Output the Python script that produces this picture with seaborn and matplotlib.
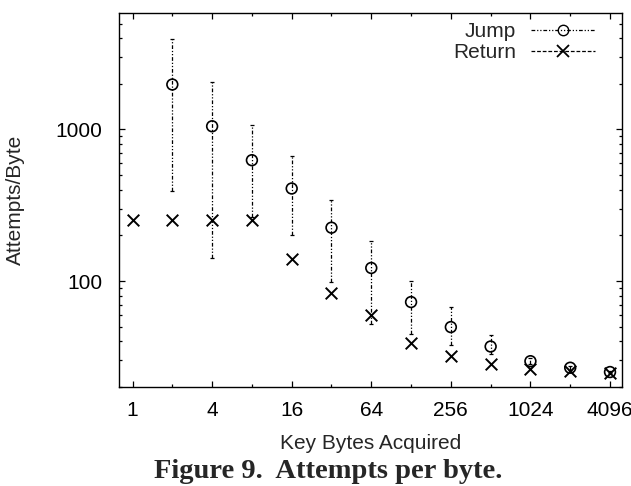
import numpy as np
import pandas as pd
import matplotlib
matplotlib.use("Agg")
import matplotlib.pyplot as plt
import matplotlib.ticker as mticker
from matplotlib.lines import Line2D
import seaborn as sns

# key bytes acquired (x) and attempts/byte
key_bytes = [1, 2, 4, 8, 16, 32, 64, 128, 256, 512, 1024, 2048, 4096]
jump_x = key_bytes[1:]
jump_mean = [1980, 1050, 627, 408, 225, 122, 72.7, 49.7, 37, 29.6, 26.8, 25.1]
jump_lo = [393, 143, 265, 200, 98.5, 52, 44.5, 37.6, 33, 28.3, 26.0, 24.6]
jump_hi = [3930, 2053, 1067, 667, 341, 183, 100, 67, 43.8, 31.2, 27.6, 25.6]
return_x = key_bytes
return_mean = [254, 254, 254, 254, 139, 83, 60, 39, 31.8, 28.5, 26.4, 25.5, 24.8]

x_ticks = [1, 4, 16, 64, 256, 1024, 4096]
x_ticklabels = ["1", "4", "16", "64", "256", "1024", "4096"]
y_ticks = [100, 1000]
y_ticklabels = ["100", "1000"]

jump = pd.DataFrame({"x": jump_x, "y": jump_mean, "lo": jump_lo, "hi": jump_hi})
ret = pd.DataFrame({"x": return_x, "y": return_mean})

sns.set_style("ticks")
plt.rcParams["font.family"] = ["Liberation Sans", "DejaVu Sans"]

dashdot = (0, (3, 1.5, 1, 1.5, 1, 1.5))

fig = plt.figure(figsize=(6.31, 4.86), dpi=100)
ax = fig.add_axes([0.1886, 0.2037, 0.797, 0.7703])

# error bars for Jump
ax.errorbar(jump["x"], jump["y"],
            yerr=[jump["y"] - jump["lo"], jump["hi"] - jump["y"]],
            fmt="none", ecolor="black", elinewidth=0.9, capsize=1.5,
            capthick=0.9)
for c in ax.collections:
    c.set_linestyle(dashdot)

sns.scatterplot(data=jump, x="x", y="y", marker="o", s=60,
                facecolor="none", edgecolor="black", linewidth=1.2,
                ax=ax, legend=False, zorder=3)
sns.scatterplot(data=ret, x="x", y="y", marker="x", s=70,
                color="black", linewidth=1.4, ax=ax, legend=False, zorder=3)

ax.set_xscale("log", base=2)
ax.set_yscale("log")
ax.set_xlim(0.79, 5040)
ax.set_ylim(20, 5900)

ax.xaxis.set_major_locator(mticker.FixedLocator(x_ticks))
ax.xaxis.set_major_formatter(mticker.FixedFormatter(x_ticklabels))
ax.xaxis.set_minor_locator(mticker.FixedLocator([2, 8, 32, 128, 512, 2048]))
ax.xaxis.set_minor_formatter(mticker.NullFormatter())
ax.yaxis.set_major_locator(mticker.FixedLocator(y_ticks))
ax.yaxis.set_major_formatter(mticker.FixedFormatter(y_ticklabels))
ax.yaxis.set_minor_locator(mticker.LogLocator(base=10, subs=np.arange(2, 10)))
ax.yaxis.set_minor_formatter(mticker.NullFormatter())

ax.tick_params(which="both", direction="in", top=True, right=True,
               labelsize=15, width=0.9, colors="black")
ax.tick_params(axis="x", which="major", pad=10)
ax.tick_params(axis="y", which="major", pad=12)
ax.tick_params(which="major", length=4.5)
ax.tick_params(which="minor", length=2.5)
for sp in ax.spines.values():
    sp.set_linewidth(1.0)
    sp.set_color("black")

ax.set_xlabel("Key Bytes Acquired", fontsize=15, labelpad=10)
ax.set_ylabel("Attempts/Byte", fontsize=15, labelpad=22)

handles = [
    Line2D([0], [0], color="black", lw=0.9, linestyle=dashdot, marker="o",
           markerfacecolor="none", markeredgecolor="black", markersize=7.5),
    Line2D([0], [0], color="black", lw=0.9, linestyle=(0, (3, 1.5)),
           marker="x", markeredgecolor="black", markersize=8.5,
           markeredgewidth=1.3),
]
ax.legend(handles, ["Jump", "Return"], loc="upper right", frameon=False,
          bbox_to_anchor=(0.966, 1.0),
          markerfirst=False, fontsize=15, handlelength=3.1,
          labelspacing=0.1, borderaxespad=0.3, borderpad=0.15,
          handletextpad=0.7)

fig.text(0.52, 0.0165, "Figure 9.  Attempts per byte.", ha="center",
         va="baseline", fontsize=20.5, fontweight="bold",
         family=["Liberation Serif", "DejaVu Serif"])

fig.savefig("out.png", dpi=100)
